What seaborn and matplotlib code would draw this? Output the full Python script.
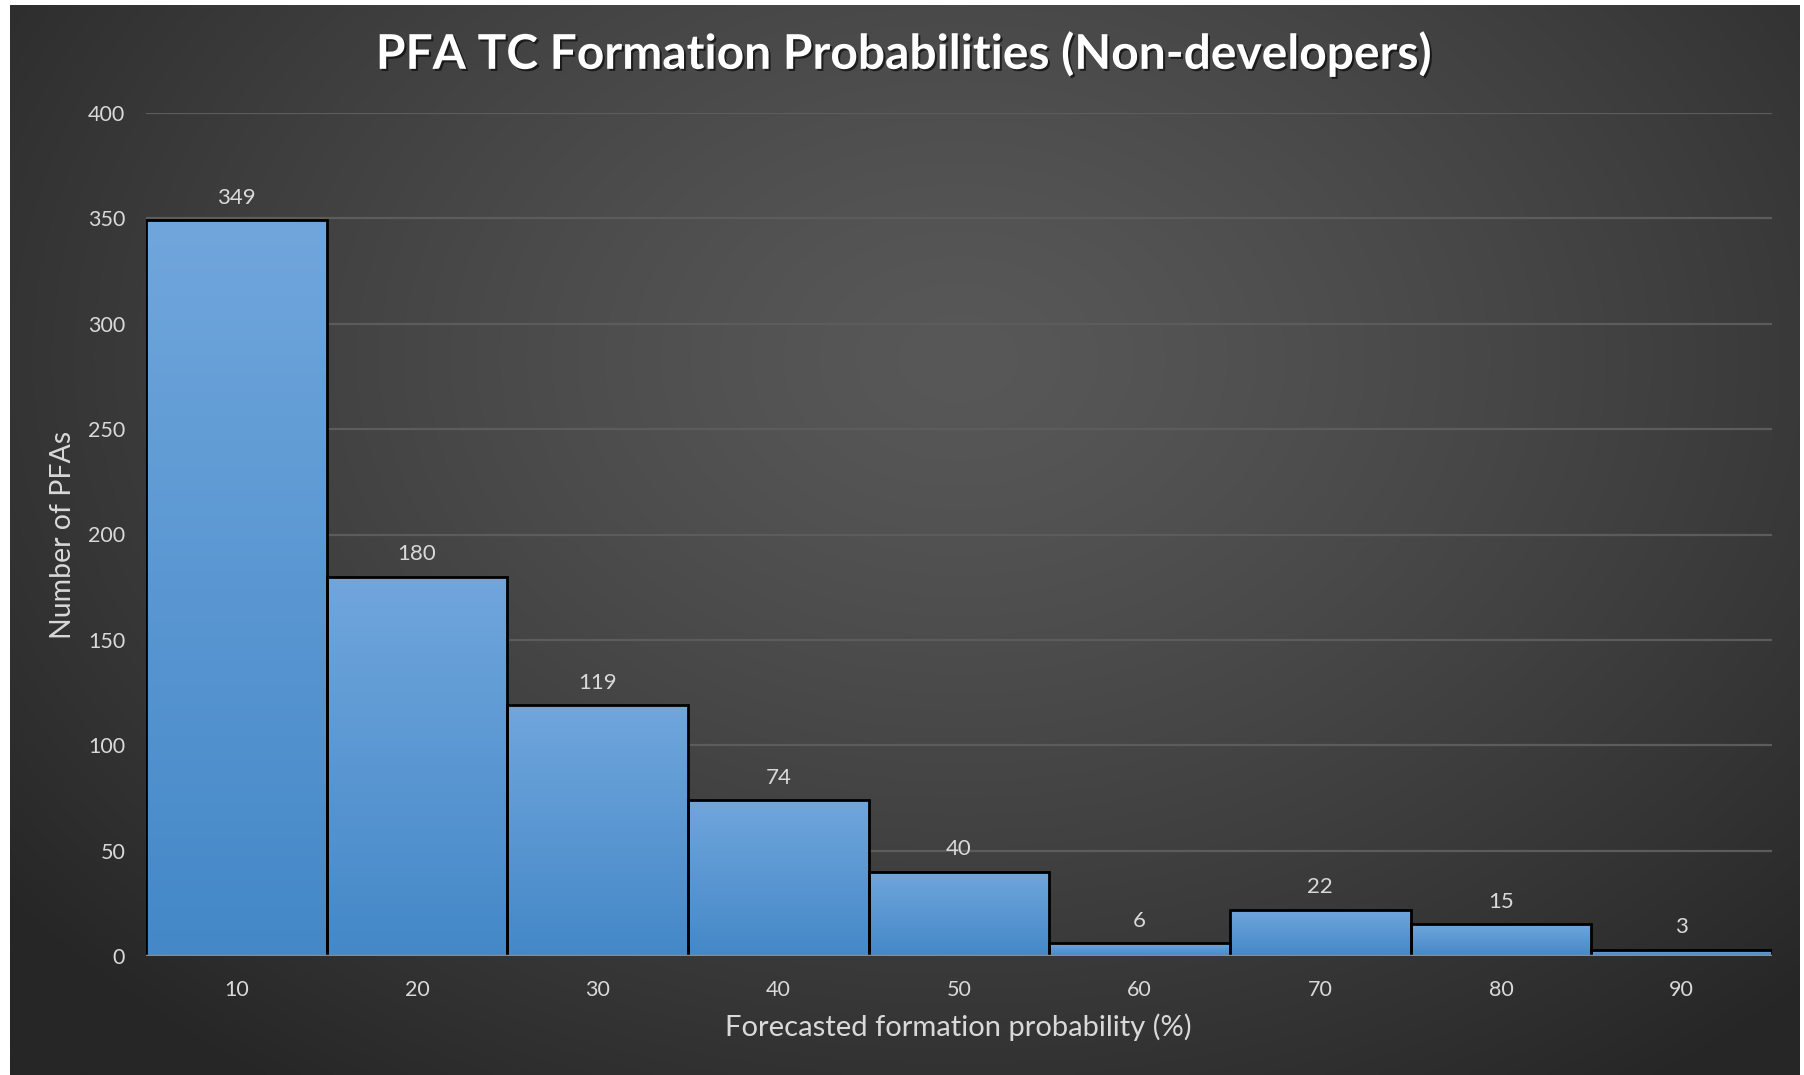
import numpy as np
import pandas as pd
import matplotlib
matplotlib.use("Agg")
import matplotlib.pyplot as plt
import matplotlib.patheffects as pe
import seaborn as sns

# ---- data ----
categories = ["10", "20", "30", "40", "50", "60", "70", "80", "90"]
counts = [349, 180, 119, 74, 40, 6, 22, 15, 3]
y_ticks = [0, 50, 100, 150, 200, 250, 300, 350, 400]
title = "PFA TC Formation Probabilities (Non-developers)"
x_label = "Forecasted formation probability (%)"
y_label = "Number of PFAs"

sns.set_style("dark")
plt.rcParams["font.family"] = ["Lato", "DejaVu Sans"]

W, H = 1804, 1075
fig = plt.figure(figsize=(W / 100, H / 100), dpi=100)
fig.patch.set_facecolor("white")

# ---- background radial gradient ----
bg = fig.add_axes([10 / W, 0, (W - 14) / W, (H - 5) / H], zorder=-10)
yy, xx = np.mgrid[0:1:300j, 0:1:500j]
cx, cy = 0.53, 0.33
d = np.sqrt(((xx - cx) * 1.1) ** 2 + ((yy - cy) * 0.9) ** 2)
d = np.clip(d / 0.75, 0, 1)
c_in, c_out = 0x58 / 255, 0x26 / 255
g = c_in + (c_out - c_in) * d ** 1.3
bg.imshow(np.dstack([g, g, g]), aspect="auto", extent=[0, 1, 1, 0], interpolation="bilinear")
bg.set_axis_off()

# ---- main axes ----
left, right, top, bottom = 146, 1772, 113, 956
ax = fig.add_axes([left / W, 1 - bottom / H, (right - left) / W, (bottom - top) / H])
ax.set_facecolor("none")

df = pd.DataFrame({"prob": categories, "count": counts})
sns.barplot(data=df, x="prob", y="count", width=1.0, color="#5b9bd5",
            edgecolor="black", linewidth=2.0, saturation=1, ax=ax, zorder=3)

# per-bar vertical gradient
grad = np.linspace(0, 1, 256).reshape(-1, 1)
top_c = np.array([0x70, 0xa6, 0xdc]) / 255
bot_c = np.array([0x44, 0x88, 0xc8]) / 255
img = top_c[None, None, :] * grad[:, :, None] + bot_c[None, None, :] * (1 - grad[:, :, None])
for p in ax.patches:
    x0, w, h = p.get_x(), p.get_width(), p.get_height()
    im = ax.imshow(img, extent=[x0, x0 + w, 0, h], origin="lower", aspect="auto", zorder=3.5)
    im.set_clip_path(p)
    p.set_zorder(4)
    p.set_facecolor("none")

ax.bar_label(ax.containers[0], labels=[str(v) for v in counts], padding=9,
             color="#d9d9d9", fontsize=16, zorder=5)

ax.set_xlim(-0.5, len(categories) - 0.5)
ax.set_ylim(0, 400)
ax.set_yticks(y_ticks)
ax.set_yticklabels([str(t) for t in y_ticks])
ax.set_xlabel("")
ax.set_ylabel("")
for s in ax.spines.values():
    s.set_visible(False)
ax.grid(axis="y", color="#5c5c5c", linewidth=1.6, zorder=0)
ax.grid(axis="x", visible=False)
ax.axhline(0, color="#8c8c8c", linewidth=2.5, zorder=6)
ax.tick_params(axis="both", length=0, colors="#d9d9d9", labelsize=15.5)
ax.tick_params(axis="y", pad=15)
ax.tick_params(axis="x", pad=17)

# ---- titles ----
fig.text(903 / W, 1 - 54 / H, title, ha="center", va="center",
         fontsize=34.5, fontweight="bold", color="white",
         path_effects=[pe.withSimplePatchShadow(offset=(1.5, -1.5), shadow_rgbFace="black", alpha=0.6)])
fig.text(958 / W, 1 - 1027 / H, x_label, ha="center", va="center", fontsize=21, color="#d9d9d9")
fig.text(63 / W, 1 - 535 / H, y_label, ha="center", va="center", rotation=90, fontsize=20.5, color="#d9d9d9")

fig.savefig("out.png", dpi=100, facecolor=fig.get_facecolor())
